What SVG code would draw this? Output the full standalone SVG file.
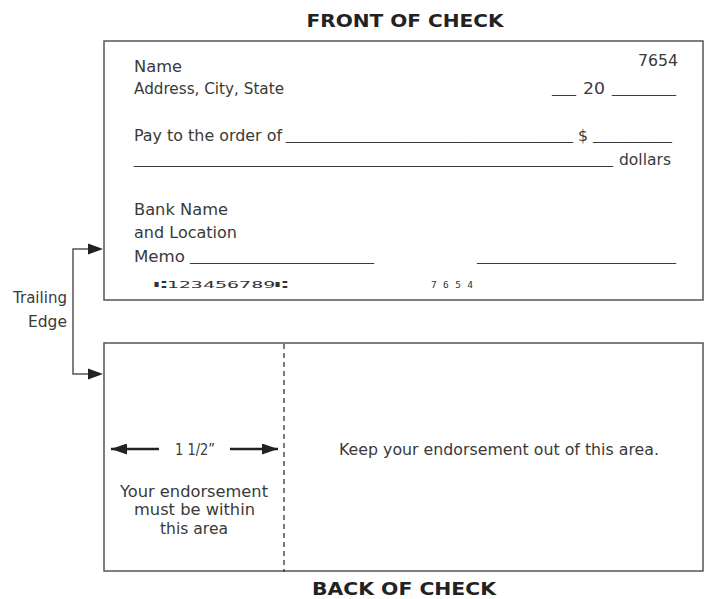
<svg xmlns="http://www.w3.org/2000/svg" width="707" height="599" viewBox="0 0 707 599">
<style>
  .t { font-family: "DejaVu Sans", "Noto Sans", sans-serif; font-size: 15.5px; fill: #3a3a3a; }
  .u { font-family: "DejaVu Sans", sans-serif; font-size: 14px; fill: #3a3a3a; }
  .title { font-family: "DejaVu Sans", "Noto Sans", sans-serif; font-size: 18.5px; font-weight: bold; fill: #222; }
  .box { fill: #fff; stroke: #555; stroke-width: 1.5; }
  .micr { font-family: "DejaVu Sans Mono", monospace; font-size: 9.5px; fill: #333; }
  .conn { fill: none; stroke: #555; stroke-width: 1.5; }
  .dim { fill: none; stroke: #222; stroke-width: 2.5; }
  .dash { stroke: #333; stroke-width: 1.3; stroke-dasharray: 5,4; }
</style>
<defs>
  <marker id="ahd" viewBox="0 0 10 10" refX="10" refY="5" markerWidth="16" markerHeight="11" markerUnits="userSpaceOnUse" orient="auto" preserveAspectRatio="none">
    <path d="M0,0 L10,5 L0,10 Z" fill="#222"/>
  </marker>
</defs>

<g id="front-title">
  <text class="title" x="405" y="27" text-anchor="middle" textLength="197" lengthAdjust="spacingAndGlyphs">FRONT OF CHECK</text>
</g>

<g id="front">
  <rect class="box" x="104" y="41" width="599" height="259"/>
  <text class="t" x="134" y="72" textLength="48" lengthAdjust="spacingAndGlyphs">Name</text>
  <text class="t" x="638" y="66" textLength="40" lengthAdjust="spacingAndGlyphs">7654</text>
  <text class="t" x="134" y="94" textLength="150" lengthAdjust="spacingAndGlyphs">Address, City, State</text>
  <text class="u" x="552" y="93" textLength="24" lengthAdjust="spacingAndGlyphs">____</text>
  <text class="t" x="583" y="94" textLength="22" lengthAdjust="spacingAndGlyphs">20</text>
  <text class="u" x="612" y="93" textLength="64" lengthAdjust="spacingAndGlyphs">_______</text>
  <text class="t" x="134" y="141" textLength="148" lengthAdjust="spacingAndGlyphs">Pay to the order of</text>
  <text class="u" x="286" y="140" textLength="287" lengthAdjust="spacingAndGlyphs">____________________________________</text>
  <text class="t" x="578" y="141" textLength="10" lengthAdjust="spacingAndGlyphs">$</text>
  <text class="u" x="593" y="140" textLength="79" lengthAdjust="spacingAndGlyphs">__________</text>
  <text class="u" x="134" y="164" textLength="479" lengthAdjust="spacingAndGlyphs">____________________________________________________________</text>
  <text class="t" x="619" y="165" textLength="52" lengthAdjust="spacingAndGlyphs">dollars</text>
  <text class="t" x="134" y="215" textLength="94" lengthAdjust="spacingAndGlyphs">Bank Name</text>
  <text class="t" x="134" y="238" textLength="103" lengthAdjust="spacingAndGlyphs">and Location</text>
  <text class="t" x="134" y="262" textLength="51" lengthAdjust="spacingAndGlyphs">Memo</text>
  <text class="u" x="190" y="261" textLength="184" lengthAdjust="spacingAndGlyphs">_______________________</text>
  <text class="u" x="477" y="261" textLength="199" lengthAdjust="spacingAndGlyphs">_________________________</text>
  <text class="micr" x="154" y="288" textLength="134" lengthAdjust="spacingAndGlyphs">⑆123456789⑆</text>
  <text class="micr" x="431" y="288" textLength="42" lengthAdjust="spacing">7654</text>
</g>

<g id="trailing-edge">
  <text class="t" x="67" y="303" text-anchor="end" textLength="54" lengthAdjust="spacingAndGlyphs">Trailing</text>
  <text class="t" x="67" y="327" text-anchor="end" textLength="39" lengthAdjust="spacingAndGlyphs">Edge</text>
</g>

<g id="back">
  <rect class="box" x="104" y="343" width="599" height="228"/>
  <line class="dash" x1="284" y1="344" x2="284" y2="572"/>
  <text class="t" x="175" y="455" textLength="40" lengthAdjust="spacingAndGlyphs">1 1/2”</text>
  <text class="t" x="339" y="455" textLength="320" lengthAdjust="spacingAndGlyphs">Keep your endorsement out of this area.</text>
  <text class="t" x="120" y="497" textLength="148" lengthAdjust="spacingAndGlyphs">Your endorsement</text>
  <text class="t" x="134" y="515" textLength="121" lengthAdjust="spacingAndGlyphs">must be within</text>
  <text class="t" x="160" y="534" textLength="68" lengthAdjust="spacingAndGlyphs">this area</text>
</g>

<g id="back-title">
  <text class="title" x="404" y="595" text-anchor="middle" textLength="184" lengthAdjust="spacingAndGlyphs">BACK OF CHECK</text>
</g>

<g id="connectors">
  <path class="conn" d="M89,249 H73 V374 H89"/>
  <path d="M88,243.5 L103,249 L88,254.5 Z" fill="#222"/>
  <path d="M88,368.5 L103,374 L88,379.5 Z" fill="#222"/>
  <line class="dim" x1="159" y1="449" x2="111" y2="449" marker-end="url(#ahd)"/>
  <line class="dim" x1="230" y1="449" x2="278" y2="449" marker-end="url(#ahd)"/>
</g>
</svg>
